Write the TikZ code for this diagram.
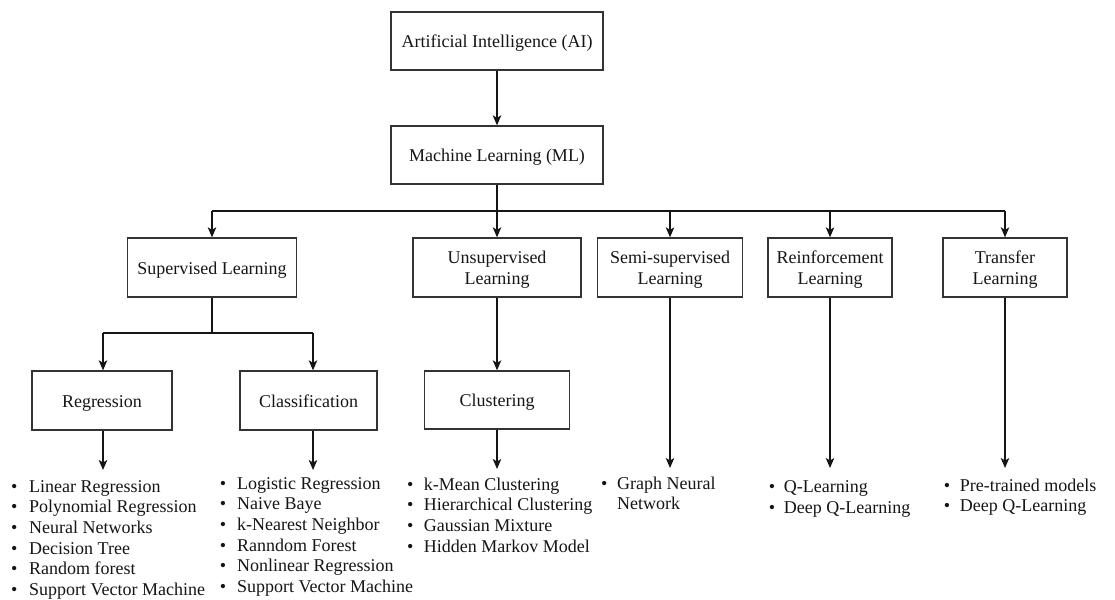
\documentclass[tikz,border=0pt]{standalone}
\usepackage{fontspec}
\setmainfont{Liberation Serif}
\usetikzlibrary{arrows.meta}
\newlength{\itemgap}
\newcommand{\itm}{\makebox[6pt][c]{\textbullet}\hspace{\itemgap}}
% box label, set a little below the optical centre of its box
\newcommand{\lbl}[1]{\raisebox{-2.5pt}[\height][\depth]{\begin{tabular}{@{}c@{}}#1\end{tabular}}}
\definecolor{ink}{HTML}{151515}
\definecolor{frame}{HTML}{333333}
\tikzset{
  box/.style={draw=frame, line width=1.3pt, inner sep=0pt,
    text=ink, font=\fontsize{18}{21}\selectfont},
  link/.style={draw=ink, line width=1.3pt},
  arr/.style={link, -{Stealth[length=10pt,width=8.5pt,inset=2.5pt]}},
  lst/.style={inner sep=0pt, text=ink, anchor=base west,
    font=\fontsize{18}{20.7}\selectfont},
}
\begin{document}
\begin{tikzpicture}[x=1pt,y=-1pt]
\useasboundingbox (0,0) rectangle (1115,599);

% levels 0 and 1
\node[box, minimum width=212pt, minimum height=58pt] (ai) at (497,41) {\lbl{Artificial Intelligence (AI)}};
\node[box, minimum width=212pt, minimum height=58pt] (ml) at (497,155) {\lbl{Machine Learning (ML)}};

% learning paradigms
\node[box, minimum width=169pt, minimum height=59pt] (sup) at (212,267.5) {\lbl{Supervised Learning}};
\node[box, minimum width=168pt, minimum height=59pt] (uns) at (497,267.5) {\lbl{Unsupervised\\Learning}};
\node[box, minimum width=145pt, minimum height=59pt] (semi) at (670,267.5) {\lbl{Semi-supervised\\Learning}};
\node[box, minimum width=124pt, minimum height=59pt] (rein) at (830,267.5) {\lbl{Reinforcement\\Learning}};
\node[box, minimum width=124pt, minimum height=59pt] (tra) at (1005,267.5) {\lbl{Transfer\\Learning}};

% task families
\node[box, minimum width=140pt, minimum height=59pt] (reg) at (102,400.5) {\lbl{Regression}};
\node[box, minimum width=137pt, minimum height=59pt] (cla) at (308.5,400.5) {\lbl{Classification}};
\node[box, minimum width=145pt, minimum height=58pt] (clu) at (497,400) {\lbl{Clustering}};

% junction points
\coordinate (bus) at (497,211);
\coordinate (split) at (212,333);
\coordinate (regEnd) at (103,470);
\coordinate (claEnd) at (313,470);
\coordinate (cluEnd) at (497,469);
\coordinate (semiEnd) at (670,468);
\coordinate (reinEnd) at (830,468);
\coordinate (traEnd) at (1005,468);

% connectors
\draw[arr] (ai) -- (ml);
\draw[link] (ml.south) -- (bus);
\draw[link] (sup.north |- bus) -- (tra.north |- bus);
\draw[arr] (sup.north |- bus) -- (sup.north);
\draw[arr] (bus) -- (uns.north);
\draw[arr] (semi.north |- bus) -- (semi.north);
\draw[arr] (rein.north |- bus) -- (rein.north);
\draw[arr] (tra.north |- bus) -- (tra.north);

\draw[link] (sup.south) -- (split);
\draw[link] (regEnd |- split) -- (claEnd |- split);
\draw[arr] (regEnd |- split) -- (regEnd |- reg.north);
\draw[arr] (claEnd |- split) -- (claEnd |- cla.north);
\draw[arr] (uns.south) -- (clu.north);

\draw[arr] (regEnd |- reg.south) -- (regEnd);
\draw[arr] (claEnd |- cla.south) -- (claEnd);
\draw[arr] (clu.south) -- (cluEnd);
\draw[arr] (semi.south) -- (semiEnd);
\draw[arr] (rein.south) -- (reinEnd);
\draw[arr] (tra.south) -- (traEnd);

% algorithm lists
\node[lst] (regl) at (11,492) {\setlength{\itemgap}{12pt}\begin{tabular}[t]{@{}l@{}}
\itm Linear Regression\\
\itm Polynomial Regression\\
\itm Neural Networks\\
\itm Decision Tree\\
\itm Random forest\\
\itm Support Vector Machine
\end{tabular}};
\node[lst] (clal) at (219.7,489) {\setlength{\itemgap}{11.3pt}\begin{tabular}[t]{@{}l@{}}
\itm Logistic Regression\\
\itm Naive Baye\\
\itm k-Nearest Neighbor\\
\itm Ranndom Forest\\
\itm Nonlinear Regression\\
\itm Support Vector Machine
\end{tabular}};
\node[lst] (clul) at (407,490) {\setlength{\itemgap}{10.7pt}\begin{tabular}[t]{@{}l@{}}
\itm k-Mean Clustering\\
\itm Hierarchical Clustering\\
\itm Gaussian Mixture\\
\itm Hidden Markov Model
\end{tabular}};
\node[lst] (semil) at (601,489) {\setlength{\itemgap}{10pt}\begin{tabular}[t]{@{}l@{}}
\itm Graph Neural\\
\hspace{16pt}Network
\end{tabular}};
\node[lst] (reinl) at (768.7,492.7) {\setlength{\itemgap}{9pt}\begin{tabular}[t]{@{}l@{}}
\itm Q-Learning\\
\itm Deep Q-Learning
\end{tabular}};
\node[lst] (tral) at (943.7,491) {\setlength{\itemgap}{10pt}\begin{tabular}[t]{@{}l@{}}
\itm Pre-trained models\\
\itm Deep Q-Learning
\end{tabular}};
\end{tikzpicture}
\end{document}
